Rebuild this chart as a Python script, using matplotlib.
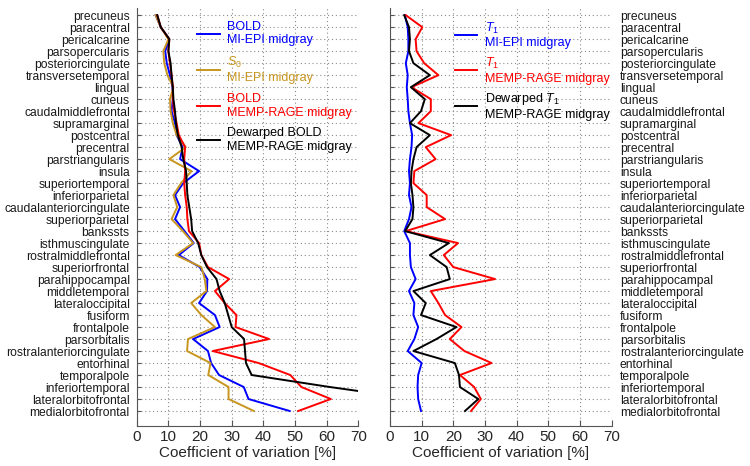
import matplotlib
matplotlib.use("Agg")
import matplotlib.pyplot as plt

plt.rcParams['font.family'] = ['Liberation Sans', 'DejaVu Sans']
plt.rcParams['mathtext.fontset'] = 'custom'
plt.rcParams['mathtext.it'] = 'Liberation Sans:italic'
plt.rcParams['mathtext.rm'] = 'Liberation Sans'

regions = ["precuneus", "paracentral", "pericalcarine", "parsopercularis",
           "posteriorcingulate", "transversetemporal", "lingual", "cuneus",
           "caudalmiddlefrontal", "supramarginal", "postcentral", "precentral",
           "parstriangularis", "insula", "superiortemporal", "inferiorparietal",
           "caudalanteriorcingulate", "superiorparietal", "bankssts",
           "isthmuscingulate", "rostralmiddlefrontal", "superiorfrontal",
           "parahippocampal", "middletemporal", "lateraloccipital", "fusiform",
           "frontalpole", "parsorbitalis", "rostralanteriorcingulate",
           "entorhinal", "temporalpole", "inferiortemporal",
           "lateralorbitofrontal", "medialorbitofrontal"]

# Left panel (BOLD / S0)
bold_miepi = [6.0, 7.6, 10.3, 9.0, 9.5, 10.5, 11.3, 11.4, 11.0, 12.1, 12.6, 14.5,
              13.7, 19.7, 14.7, 12.1, 13.7, 12.1, 15.1, 18.0, 13.3, 19.9, 22.3,
              22.2, 19.7, 24.7, 26.2, 17.8, 22.5, 23.5, 26.0, 33.8, 35.3, 48.3]
s0_miepi = [6.0, 7.6, 10.0, 8.4, 8.7, 9.7, 11.6, 10.5, 10.7, 11.4, 12.6, 15.5,
            10.3, 17.3, 14.0, 11.6, 12.8, 11.0, 14.6, 17.8, 12.3, 20.4, 21.5,
            22.0, 17.2, 20.4, 24.7, 16.2, 15.9, 23.3, 22.6, 29.0, 29.0, 37.0]
bold_memprage = [6.5, 7.6, 10.3, 10.0, 10.5, 11.0, 11.4, 11.4, 11.8, 12.6, 13.3,
                 15.3, 15.0, 15.3, 15.0, 15.3, 15.8, 16.0, 16.5, 19.7, 20.4, 22.5,
                 29.2, 24.7, 27.8, 31.5, 31.2, 41.8, 24.0, 38.5, 48.5, 52.0, 61.3, 51.0]
bold_dewarped = [6.5, 7.6, 10.3, 10.0, 10.7, 11.0, 11.4, 11.6, 12.1, 12.4, 13.0,
                 14.2, 14.7, 15.6, 15.8, 16.0, 16.6, 17.2, 17.5, 19.4, 20.4, 22.2,
                 25.2, 26.2, 27.8, 28.9, 30.0, 33.9, 34.2, 34.5, 36.3, 61.0, 88.0, 80.0]

# Right panel (T1)
t1_miepi = [4.7, 5.6, 5.8, 5.8, 5.0, 5.6, 5.3, 5.6, 5.8, 6.3, 7.0, 6.8, 6.3, 6.0,
            6.3, 6.0, 6.8, 6.0, 4.5, 6.3, 6.3, 6.6, 8.1, 6.0, 7.7, 7.4, 8.9, 7.7,
            5.6, 10.0, 8.9, 8.7, 8.9, 9.8]
t1_memprage = [5.0, 10.2, 8.1, 8.4, 10.8, 15.3, 6.8, 12.9, 12.9, 9.0, 19.3, 11.3,
               14.4, 7.7, 7.4, 11.6, 11.6, 17.4, 5.0, 21.5, 17.0, 20.0, 33.2, 12.9,
               15.3, 17.4, 22.6, 18.9, 23.5, 32.1, 22.1, 26.6, 28.7, 25.6]
t1_dewarped = [4.5, 6.0, 6.3, 6.0, 7.4, 12.6, 6.6, 11.0, 9.8, 6.3, 12.6, 8.4, 7.4,
               6.8, 6.6, 7.1, 7.4, 7.1, 4.8, 18.6, 12.6, 17.9, 18.9, 7.4, 11.3, 9.8,
               21.0, 14.7, 7.4, 20.5, 21.8, 22.1, 27.9, 23.7]

xticks = [0, 10, 20, 30, 40, 50, 60, 70]
xlabel = "Coefficient of variation [%]"

BLUE = '#0000ff'
GOLD = '#c8961e'
RED = '#ff0000'
BLACK = '#000000'

fig = plt.figure(figsize=(7.5, 4.66), dpi=100)
W, H = 750, 466
ax_bottom = (H - 426) / H
ax_height = (426 - 8) / H
axL = fig.add_axes([136.7 / W, ax_bottom, 221.7 / W, ax_height])
axR = fig.add_axes([390.0 / W, ax_bottom, 221.5 / W, ax_height])

ypos = list(range(len(regions)))


def style(ax, labels_right):
    ax.set_xlim(0, 70)
    ax.set_ylim(34.25, -0.6)
    ax.set_xticks(xticks)
    ax.set_yticks(ypos)
    ax.set_yticklabels(regions, fontsize=8.7)
    ax.grid(True, linestyle=(0, (1, 2.5)), color='#8c8c8c', linewidth=0.8)
    ax.set_axisbelow(True)
    for s in ['top', 'right']:
        ax.spines[s].set_visible(False)
    for s in ['left', 'bottom']:
        ax.spines[s].set_color('#555555')
        ax.spines[s].set_linewidth(0.8)
    ax.tick_params(axis='x', direction='in', length=4, width=0.8, color='#555555',
                   labelsize=11, pad=3, labelcolor='#262626')
    if labels_right:
        ax.tick_params(axis='y', left=True, right=False, labelleft=False,
                       labelright=True, direction='in', length=3, width=0.8,
                       color='#555555', pad=6, labelcolor='#1a1a1a')
    else:
        ax.tick_params(axis='y', direction='in', length=3, width=0.8,
                       color='#555555', pad=5, labelcolor='#1a1a1a')
    ax.set_xlabel(xlabel, fontsize=11, color='#262626', labelpad=1)


lw = 1.4
axL.plot(bold_miepi, ypos, color=BLUE, lw=lw, label="BOLD\nMI-EPI midgray")
axL.plot(s0_miepi, ypos, color=GOLD, lw=lw, label="$S_0$\nMI-EPI midgray")
axL.plot(bold_memprage, ypos, color=RED, lw=lw, label="BOLD\nMEMP-RAGE midgray")
axL.plot(bold_dewarped, ypos, color=BLACK, lw=lw,
         label="Dewarped BOLD\nMEMP-RAGE midgray")
style(axL, False)

axR.plot(t1_miepi, ypos, color=BLUE, lw=lw, label="$T_1$\nMI-EPI midgray")
axR.plot(t1_memprage, ypos, color=RED, lw=lw, label="$T_1$\nMEMP-RAGE midgray")
axR.plot(t1_dewarped, ypos, color=BLACK, lw=lw,
         label="Dewarped $T_1$\nMEMP-RAGE midgray")
style(axR, True)

legL = axL.legend(loc='upper left', bbox_to_anchor=(0.272, 0.97), frameon=False,
                  fontsize=9, handlelength=1.8, handletextpad=0.6,
                  labelspacing=0.7, borderpad=0, borderaxespad=0,
                  labelcolor='linecolor')
legR = axR.legend(loc='upper left', bbox_to_anchor=(0.293, 0.97), frameon=False,
                  fontsize=9, handlelength=1.8, handletextpad=0.6,
                  labelspacing=0.5, borderpad=0, borderaxespad=0,
                  labelcolor='linecolor')

fig.savefig("out.png", dpi=100)
